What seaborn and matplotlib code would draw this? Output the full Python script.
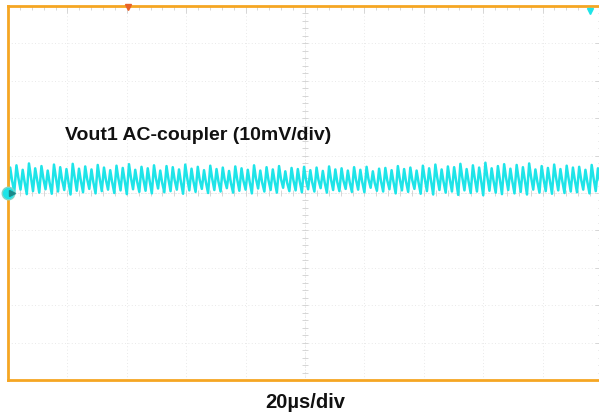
import numpy as np
import pandas as pd
import matplotlib
matplotlib.use("Agg")
import matplotlib.pyplot as plt
import seaborn as sns

# scope capture: 20us/div, 10mV/div, 10 x 10 divisions
time_span_us = 200
volt_span_mv = 100

# per ripple cycle: peak, shoulder and trough of Vout1 ripple (mV)
peaks = [
    6.8, 7.4, 6.2, 7.9, 6.6, 7.2, 6.0, 7.6, 6.9, 6.4,
    7.8, 6.5, 7.1, 6.3, 7.5, 6.8, 6.1, 7.3, 6.7, 7.7,
    6.2, 7.0, 6.6, 7.4, 6.0, 7.2, 6.9, 6.3, 7.6, 6.5,
    7.0, 6.1, 7.3, 6.4, 6.8, 5.9, 7.1, 6.6, 6.2, 7.4,
    6.0, 6.9, 6.3, 7.2, 5.8, 6.7, 6.4, 7.0, 6.1, 6.8,
    5.9, 7.1, 6.3, 6.6, 6.0, 6.9, 6.2, 7.0, 5.8, 6.5,
    6.7, 6.1, 7.2, 6.4, 6.8, 6.0, 7.3, 6.6, 7.6, 6.3,
    7.1, 6.9, 7.8, 6.4, 7.4, 6.8, 8.1, 6.6, 7.2, 7.7,
    6.5, 7.5, 6.9, 7.9, 6.3, 7.2, 6.7, 7.6, 6.4, 7.3,
    6.8, 7.0, 6.2, 7.5, 6.6]
shoulders = [
    3.4, 4.1, 3.0, 4.4, 3.6, 3.9, 2.8, 4.2, 3.5, 3.1,
    4.3, 3.3, 3.8, 2.9, 4.0, 3.6, 3.0, 3.9, 3.4, 4.2,
    3.1, 3.7, 3.3, 4.0, 2.8, 3.8, 3.5, 3.0, 4.1, 3.2,
    3.6, 2.9, 3.9, 3.1, 3.5, 2.7, 3.7, 3.3, 3.0, 3.9,
    2.8, 3.5, 3.1, 3.8, 2.7, 3.4, 3.2, 3.6, 2.9, 3.5,
    2.8, 3.7, 3.0, 3.3, 2.9, 3.6, 3.0, 3.7, 2.7, 3.2,
    3.4, 3.0, 3.8, 3.1, 3.5, 2.9, 3.9, 3.3, 4.1, 3.1,
    3.7, 3.5, 4.2, 3.2, 3.9, 3.5, 4.4, 3.3, 3.8, 4.1,
    3.2, 4.0, 3.6, 4.3, 3.1, 3.8, 3.4, 4.1, 3.2, 3.9,
    3.5, 3.7, 3.0, 4.0, 3.3]
troughs = [
    0.6, 0.2, 0.9, -0.3, 0.5, 0.1, 1.0, -0.2, 0.4, 0.8,
    -0.4, 0.6, 0.2, 1.1, -0.1, 0.5, 0.9, 0.0, 0.7, -0.3,
    1.0, 0.3, 0.6, -0.1, 1.2, 0.2, 0.5, 0.9, -0.2, 0.7,
    0.3, 1.1, 0.0, 0.8, 0.4, 1.3, 0.1, 0.6, 0.9, -0.1,
    1.2, 0.4, 0.8, 0.1, 1.4, 0.5, 0.7, 0.2, 1.0, 0.4,
    1.3, 0.1, 0.8, 0.5, 1.1, 0.3, 0.9, 0.2, 1.4, 0.6,
    0.4, 1.0, -0.1, 0.7, 0.3, 1.1, -0.2, 0.5, -0.4, 0.8,
    0.1, 0.4, -0.5, 0.7, 0.0, 0.4, -0.6, 0.6, 0.1, -0.3,
    0.8, -0.1, 0.3, -0.4, 0.9, 0.1, 0.5, -0.2, 0.7, 0.0,
    0.4, 0.2, 0.9, -0.1, 0.5]

trace_title = "Vout1 AC-coupler (10mV/div)"
time_title = "20\u00b5s/div"

n = len(peaks)
period = time_span_us / n
cyc = np.arange(n) * period
t = np.column_stack([cyc, cyc + 0.35 * period, cyc + 0.65 * period]).ravel()
v = np.column_stack([troughs, peaks, shoulders]).ravel()
df = pd.DataFrame({"t": t, "v": v})

sns.set_style("white")
plt.rcParams["font.family"] = ["Liberation Sans", "DejaVu Sans"]

fig = plt.figure(figsize=(5.99, 4.16), dpi=100)
ax = fig.add_axes([8 / 599, 36 / 416, 594 / 599, 374 / 416])

orange = "#F5A623"
cyan = "#1EE4E8"
gridc = "#e2e2e2"

ax.set_xlim(0, time_span_us)
ax.set_ylim(-volt_span_mv / 2, volt_span_mv / 2)
ax.set_xticks(np.arange(0, time_span_us + 1, 20))
ax.set_yticks(np.arange(-50, 51, 10))
ax.set_xticks(np.arange(0, time_span_us + 1, 4), minor=True)
ax.set_yticks(np.arange(-50, 51, 2), minor=True)
ax.set_xticklabels([])
ax.set_yticklabels([])
ax.grid(which="major", color=gridc, lw=0.6, ls=(0, (1, 3)))
ax.tick_params(which="both", direction="in", top=True, right=True,
               color="#d0d0d0", width=0.6)
ax.tick_params(which="major", length=5)
ax.tick_params(which="minor", length=3)

# center graticule with minor marks
ax.axvline(100, color=gridc, lw=0.6, ls=(0, (1, 2)))
ax.axhline(0, color=gridc, lw=0.6, ls=(0, (1, 2)))
ymarks = np.arange(-50, 51, 2)
xmarks = np.arange(0, time_span_us + 1, 4)
ax.plot(np.full(len(ymarks), 100), ymarks, ls="none", marker="_", ms=4,
        color="#d0d0d0", mew=0.6)
ax.plot(xmarks, np.zeros(len(xmarks)), ls="none", marker="|", ms=4,
        color="#d0d0d0", mew=0.6)

for s in ax.spines.values():
    s.set_color(orange)
    s.set_linewidth(2)

sns.lineplot(data=df, x="t", y="v", ax=ax, color=cyan, lw=1.8,
             estimator=None, sort=False)
ax.set_xlabel("")
ax.set_ylabel("")

# markers: channel level, trigger position, trigger level
ax.plot(0, 0, "o", color=cyan, ms=9, clip_on=False, zorder=5,
        mec="#7fd6c8", mew=1)
ax.plot(1.2, 0, ">", color="#1a8a8a", ms=4, clip_on=False, zorder=6)
ax.plot(40.4, 49.6, "v", color="#E8622A", ms=5, clip_on=False, zorder=5)
ax.plot(196, 48.6, "v", color=cyan, ms=4, clip_on=False, zorder=5)

fig.text(65 / 599, 1 - 136 / 416, trace_title, ha="left", va="center",
         fontsize=14, fontweight="bold", color="#111111")
fig.text(305 / 599, 1 - 403 / 416, time_title, ha="center", va="center",
         fontsize=14.5, fontweight="bold", color="#111111")

fig.savefig("out.png", dpi=100)
plt.close(fig)
